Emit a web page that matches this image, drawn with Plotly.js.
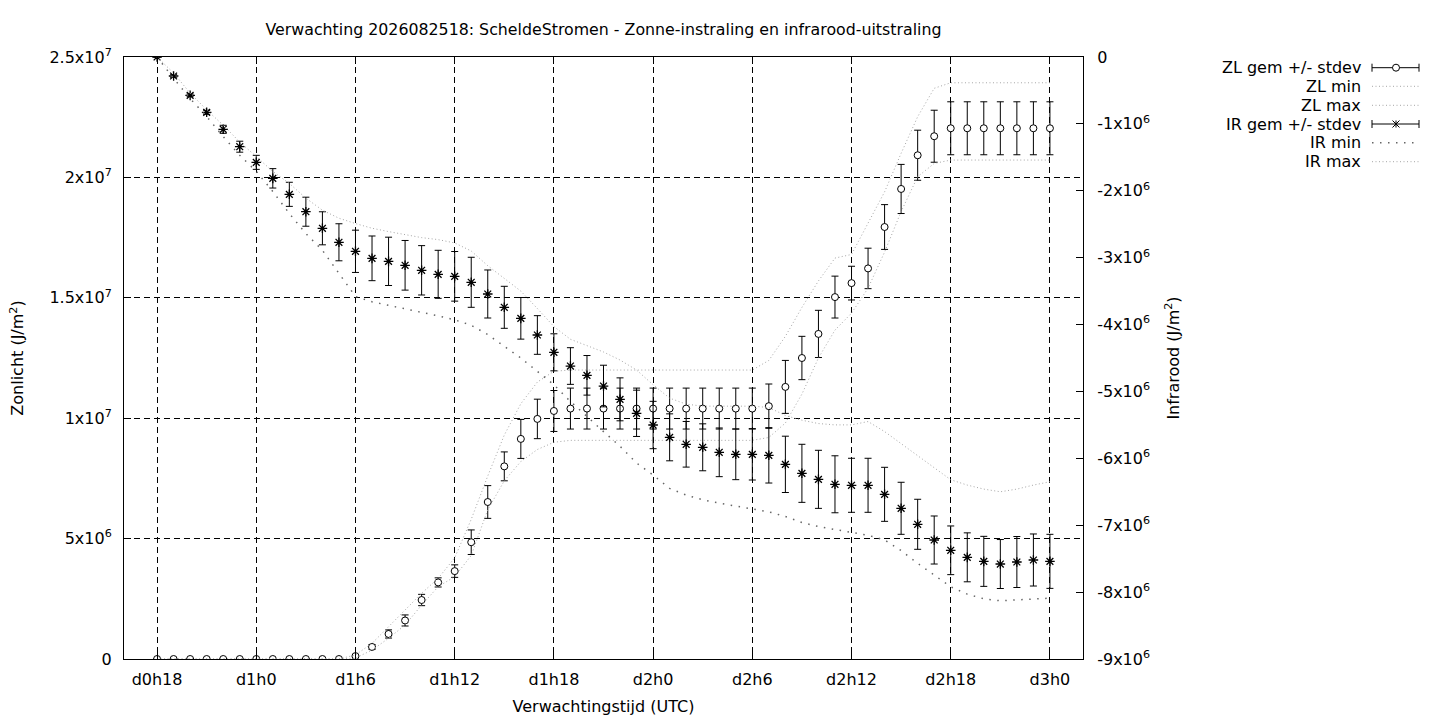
<!DOCTYPE html>
<html>
<head>
<meta charset="utf-8">
<script src="https://cdn.plot.ly/plotly-3.0.1.min.js"></script>
<style>html,body{margin:0;padding:0;background:#fff;}#chart{width:1440px;height:720px;}</style>
</head>
<body>
<div id="chart"></div>
<script>
// ---------- data ----------
const hours = [18,19,20,21,22,23,24,25,26,27,28,29,30,31,32,33,34,35,36,37,38,39,40,41,42,43,44,45,46,47,48,49,50,51,52,53,54,55,56,57,58,59,60,61,62,63,64,65,66,67,68,69,70,71,72];
const xTickVals = [18,24,30,36,42,48,54,60,66,72];
const xTickText = ['d0h18','d1h0','d1h6','d1h12','d1h18','d2h0','d2h6','d2h12','d2h18','d3h0'];

const zlMean = [0,0,0,0,0,0,0,0,0,0,0,0,
  1.2e5,5.0e5,1.04e6,1.6e6,2.45e6,3.18e6,3.65e6,4.85e6,6.52e6,8.0e6,9.14e6,9.97e6,1.03e7,
  1.04e7,1.04e7,1.04e7,1.04e7,1.04e7,1.04e7,1.04e7,1.04e7,1.04e7,1.04e7,1.04e7,1.04e7,
  1.05e7,1.13e7,1.25e7,1.35e7,1.503e7,1.561e7,1.622e7,1.794e7,1.952e7,2.092e7,2.171e7,
  2.204e7,2.204e7,2.204e7,2.204e7,2.204e7,2.204e7,2.204e7];
const zlStd = [0,0,0,0,0,0,0,0,0,0,0,0,
  5e4,1e5,1.7e5,2.3e5,2.35e5,1.9e5,2.6e5,5.1e5,6.8e5,6.0e5,8.1e5,8.2e5,8.5e5,
  8.5e5,8.5e5,8.5e5,8.5e5,8.5e5,8.5e5,8.5e5,8.5e5,8.5e5,8.5e5,8.5e5,8.5e5,
  9.2e5,1.1e6,9.0e5,9.8e5,8.7e5,7.0e5,8.4e5,9.3e5,1.02e6,1.04e6,1.08e6,
  1.1e6,1.1e6,1.1e6,1.1e6,1.1e6,1.1e6,1.1e6];
const zlMin = [0,0,0,0,0,0,0,0,0,0,0,0,
  4e4,3.7e5,8.6e5,1.41e6,2.24e6,3.0e6,3.42e6,4.3e6,6.2e6,7.4e6,8.2e6,8.7e6,9.0e6,
  9.08e6,9.08e6,9.08e6,9.08e6,9.08e6,9.08e6,9.08e6,9.08e6,9.08e6,9.08e6,9.08e6,9.08e6,
  9.2e6,9.8e6,1.1e7,1.25e7,1.366e7,1.436e7,1.54e7,1.69e7,1.858e7,2.003e7,2.058e7,
  2.072e7,2.072e7,2.072e7,2.072e7,2.072e7,2.072e7,2.072e7];
const zlMax = [0,0,0,0,0,0,0,0,0,0,0,0,
  1.7e5,6.5e5,1.34e6,2.03e6,2.73e6,3.35e6,4.2e6,5.8e6,7.6e6,9.3e6,1.06e7,1.15e7,1.195e7,
  1.2e7,1.2e7,1.2e7,1.2e7,1.2e7,1.2e7,1.2e7,1.2e7,1.2e7,1.2e7,1.2e7,1.2e7,
  1.24e7,1.34e7,1.46e7,1.57e7,1.665e7,1.68e7,1.81e7,1.94e7,2.1e7,2.252e7,2.37e7,
  2.393e7,2.393e7,2.393e7,2.393e7,2.393e7,2.393e7,2.393e7];

const irMean = [0,-2.84e5,-5.73e5,-8.27e5,-1.081e6,-1.341e6,-1.575e6,-1.814e6,-2.053e6,-2.313e6,-2.561e6,-2.77e6,
  -2.905e6,-3.01e6,-3.055e6,-3.114e6,-3.189e6,-3.249e6,-3.279e6,-3.368e6,-3.543e6,-3.742e6,-3.907e6,-4.156e6,-4.415e6,
  -4.62e6,-4.759e6,-4.919e6,-5.118e6,-5.327e6,-5.502e6,-5.686e6,-5.79e6,-5.835e6,-5.91e6,-5.94e6,-5.94e6,
  -5.955e6,-6.09e6,-6.224e6,-6.314e6,-6.388e6,-6.403e6,-6.403e6,-6.538e6,-6.747e6,-6.986e6,-7.221e6,
  -7.375e6,-7.48e6,-7.54e6,-7.58e6,-7.55e6,-7.52e6,-7.54e6];
const irStd = [0,2e4,2e4,3e4,6e4,8.2e4,1.05e5,1.45e5,1.8e5,2.17e5,2.47e5,2.77e5,
  3.16e5,3.34e5,3.61e5,3.71e5,3.69e5,3.59e5,3.71e5,3.74e5,3.59e5,3.14e5,3.11e5,2.89e5,2.77e5,
  2.74e5,2.96e5,3.11e5,3.21e5,3.46e5,3.54e5,3.51e5,3.41e5,3.51e5,3.64e5,3.79e5,3.84e5,
  4.14e5,4.21e5,4.34e5,4.34e5,4.26e5,4.04e5,4.04e5,4.04e5,3.89e5,3.74e5,3.59e5,
  3.64e5,3.66e5,3.74e5,3.66e5,3.81e5,3.89e5,4.04e5];
const irMin = [0,-3.2e5,-6.2e5,-8.9e5,-1.19e6,-1.47e6,-1.71e6,-2.01e6,-2.34e6,-2.64e6,-2.89e6,-3.23e6,
  -3.58e6,-3.66e6,-3.71e6,-3.76e6,-3.81e6,-3.87e6,-3.93e6,-4.01e6,-4.15e6,-4.32e6,-4.5e6,-4.7e6,-4.9e6,
  -5.15e6,-5.38e6,-5.6e6,-5.82e6,-6.07e6,-6.25e6,-6.45e6,-6.55e6,-6.62e6,-6.67e6,-6.71e6,-6.75e6,
  -6.8e6,-6.87e6,-6.96e6,-7.02e6,-7.06e6,-7.1e6,-7.15e6,-7.22e6,-7.38e6,-7.57e6,-7.75e6,
  -7.92e6,-8.03e6,-8.1e6,-8.13e6,-8.12e6,-8.1e6,-8.09e6];
const irMax = [0,-2.4e5,-5.4e5,-7.9e5,-1.02e6,-1.27e6,-1.49e6,-1.71e6,-1.89e6,-2.11e6,-2.29e6,-2.41e6,
  -2.49e6,-2.56e6,-2.61e6,-2.66e6,-2.7e6,-2.73e6,-2.78e6,-2.9e6,-3.12e6,-3.31e6,-3.5e6,-3.76e6,-4.03e6,
  -4.22e6,-4.31e6,-4.41e6,-4.53e6,-4.68e6,-4.9e6,-5.1e6,-5.19e6,-5.22e6,-5.22e6,-5.22e6,-5.22e6,
  -5.24e6,-5.36e6,-5.43e6,-5.48e6,-5.5e6,-5.5e6,-5.45e6,-5.6e6,-5.78e6,-5.96e6,-6.13e6,
  -6.32e6,-6.4e6,-6.46e6,-6.5e6,-6.46e6,-6.4e6,-6.35e6];

const yTickVals = [0,5e6,1e7,1.5e7,2e7,2.5e7];
const yTickText = ['0','5x10<sup>6</sup>','1x10<sup>7</sup>','1.5x10<sup>7</sup>','2x10<sup>7</sup>','2.5x10<sup>7</sup>'];
const y2TickVals = [-9e6,-8e6,-7e6,-6e6,-5e6,-4e6,-3e6,-2e6,-1e6,0];
const y2TickText = ['-9x10<sup>6</sup>','-8x10<sup>6</sup>','-7x10<sup>6</sup>','-6x10<sup>6</sup>','-5x10<sup>6</sup>','-4x10<sup>6</sup>','-3x10<sup>6</sup>','-2x10<sup>6</sup>','-1x10<sup>6</sup>','0'];

const legendNames = ['ZL gem +/- stdev','ZL min','ZL max','IR gem +/- stdev','IR min','IR max'];
const titleText = 'Verwachting 2026082518: ScheldeStromen - Zonne-instraling en infrarood-uitstraling';

// ---------- styles ----------
const FONT = 'DejaVu Sans, Liberation Sans, sans-serif';
const fineDot = {color:'#a6a6a6', width:1, dash:'1px,2.5px'};
const coarseDot = {color:'#666666', width:1.5, dash:'1.5px,6.5px'};

const traces = [
  {x:hours, y:zlMean, yaxis:'y', type:'scatter', mode:'markers', name:legendNames[0],
   marker:{symbol:'circle', size:7, color:'#ffffff', line:{color:'#000', width:1}},
   error_y:{type:'data', array:zlStd, visible:true, color:'#000', thickness:1, width:3.5}},
  {x:hours, y:zlMin, yaxis:'y', type:'scatter', mode:'lines', name:legendNames[1], line:fineDot},
  {x:hours, y:zlMax, yaxis:'y', type:'scatter', mode:'lines', name:legendNames[2], line:fineDot},
  {x:hours, y:irMean, yaxis:'y2', type:'scatter', mode:'markers', name:legendNames[3],
   marker:{symbol:'asterisk-open', size:8, color:'#000', line:{color:'#000', width:1.3}},
   error_y:{type:'data', array:irStd, visible:true, color:'#000', thickness:1, width:3.5}},
  {x:hours, y:irMin, yaxis:'y2', type:'scatter', mode:'lines', name:legendNames[4], line:coarseDot},
  {x:hours, y:irMax, yaxis:'y2', type:'scatter', mode:'lines', name:legendNames[5], line:fineDot}
];

// ---------- custom gnuplot-like legend ----------
const L = 124, R = 1083, T = 57, B = 659;
const W = R - L, H = B - T;
const px = v => (v - L) / W;
const py = v => (B - v) / H;
const rowY = [67.7, 86.3, 105.3, 124, 142.7, 161.7];
const sx0 = 1372, sx1 = 1419, smid = 1396;
const shapes = [];
const annotations = [];
legendNames.forEach((nm, i) => {
  const yy = rowY[i];
  annotations.push({xref:'paper', yref:'paper', x:px(1363), y:py(yy), xanchor:'right', yanchor:'middle',
    text:nm, showarrow:false, font:{family:FONT, size:16, color:'#000'}});
  if (i === 0 || i === 3) {
    shapes.push({type:'line', xref:'paper', yref:'paper', x0:px(sx0), x1:px(sx1), y0:py(yy), y1:py(yy), line:{color:'#000', width:1}});
    shapes.push({type:'line', xref:'paper', yref:'paper', x0:px(sx0), x1:px(sx0), y0:py(yy-4), y1:py(yy+4), line:{color:'#000', width:1}});
    shapes.push({type:'line', xref:'paper', yref:'paper', x0:px(sx1), x1:px(sx1), y0:py(yy-4), y1:py(yy+4), line:{color:'#000', width:1}});
    if (i === 0) {
      shapes.push({type:'circle', xref:'paper', yref:'paper', x0:px(smid-3.5), x1:px(smid+3.5), y0:py(yy-3.5), y1:py(yy+3.5), fillcolor:'#fff', line:{color:'#000', width:1}});
    } else {
      const r = 3.5;
      shapes.push({type:'line', xref:'paper', yref:'paper', x0:px(smid), x1:px(smid), y0:py(yy-r), y1:py(yy+r), line:{color:'#000', width:1}});
      shapes.push({type:'line', xref:'paper', yref:'paper', x0:px(smid-r), x1:px(smid+r), y0:py(yy-r), y1:py(yy+r), line:{color:'#000', width:1}});
      shapes.push({type:'line', xref:'paper', yref:'paper', x0:px(smid-r), x1:px(smid+r), y0:py(yy+r), y1:py(yy-r), line:{color:'#000', width:1}});
    }
  } else {
    const st = (i === 4) ? coarseDot : fineDot;
    shapes.push({type:'line', xref:'paper', yref:'paper', x0:px(sx0), x1:px(sx1), y0:py(yy), y1:py(yy), line:st});
  }
});

const axisFont = {family:FONT, size:16, color:'#000'};
const layout = {
  width:1440, height:720,
  margin:{l:L, r:1440-R, t:T, b:720-B, pad:0},
  paper_bgcolor:'#fff', plot_bgcolor:'#fff',
  showlegend:false,
  font:{family:FONT, size:16, color:'#000'},
  title:{text:titleText, font:{family:FONT, size:15.8, color:'#000'}, x:0.5, xref:'paper', xanchor:'center', y:1-29/720, yref:'container', yanchor:'middle'},
  xaxis:{range:[16,74], tickmode:'array', tickvals:xTickVals, ticktext:xTickText,
    ticks:'inside', ticklen:7, tickcolor:'#000', tickwidth:1,
    showgrid:true, gridcolor:'#000', gridwidth:1, griddash:'6px,4px',
    showline:true, linecolor:'#000', linewidth:1, mirror:'ticks', zeroline:false,
    tickfont:axisFont, ticklabelstandoff:6, automargin:false,
    title:{text:'Verwachtingstijd (UTC)', font:axisFont, standoff:12}},
  yaxis:{range:[0,2.5e7], tickmode:'array', tickvals:yTickVals, ticktext:yTickText,
    ticks:'inside', ticklen:7, tickcolor:'#000', tickwidth:1,
    showgrid:true, gridcolor:'#000', gridwidth:1, griddash:'6px,4px',
    showline:true, linecolor:'#000', linewidth:1, mirror:true, zeroline:false,
    tickfont:axisFont, ticklabelstandoff:8, automargin:false,
    title:{text:'Zonlicht (J/m<sup>2</sup>)', font:axisFont, standoff:21}},
  yaxis2:{range:[-9e6,0], overlaying:'y', side:'right', tickmode:'array', tickvals:y2TickVals, ticktext:y2TickText,
    ticks:'inside', ticklen:7, tickcolor:'#000', tickwidth:1,
    showgrid:false, showline:true, linecolor:'#000', linewidth:1, zeroline:false,
    tickfont:axisFont, ticklabelstandoff:10, automargin:false,
    title:{text:'Infrarood (J/m<sup>2</sup>)', font:axisFont, standoff:18}},
  shapes:shapes,
  annotations:annotations
};

Plotly.newPlot('chart', traces, layout, {staticPlot:true, displayModeBar:false});
</script>
</body>
</html>
